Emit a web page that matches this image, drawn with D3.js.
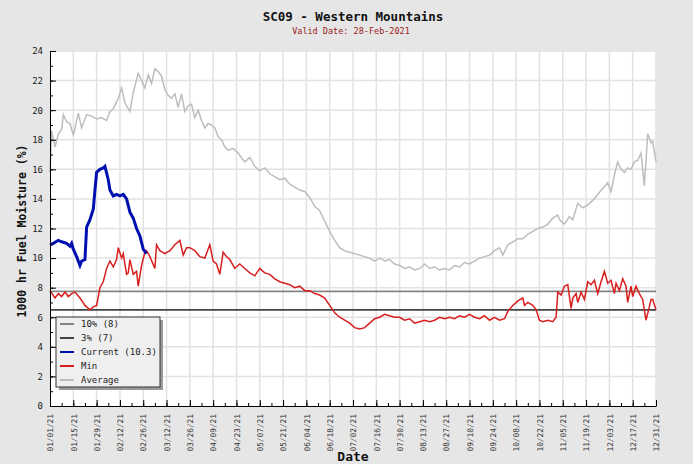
<!DOCTYPE html>
<html lang="en">
<head>
<meta charset="UTF-8">
<script src="https://cdn.jsdelivr.net/npm/d3@7.8.5/dist/d3.min.js"></script>
<title>SC09 - Western Mountains</title>
<style>
  body { margin: 0; background: #e6e6e6; }
  svg text { font-family: "DejaVu Sans Mono", monospace; }
</style>
</head>
<body>
<svg width="693" height="464"></svg>
<script>
// x values are days after 01/01/21
const dateTicks = ["01/01/21","01/15/21","01/29/21","02/12/21","02/26/21","03/12/21","03/26/21",
  "04/09/21","04/23/21","05/07/21","05/21/21","06/04/21","06/18/21","07/02/21","07/16/21",
  "07/30/21","08/13/21","08/27/21","09/10/21","09/24/21","10/08/21","10/22/21","11/05/21",
  "11/19/21","12/03/21","12/17/21","12/31/21"];
const yTicks = [0, 2, 4, 6, 8, 10, 12, 14, 16, 18, 20, 22, 24];

const thresholdNames = ["10% (8)", "3% (7)"];
const thresholdValues = [7.75, 6.5];

const legendLabels = ["10% (8)", "3% (7)", "Current (10.3)", "Min", "Average"];

const averagePoints = [[0,15.8],[1,18.6],[3,17.5],[5,18.4],[7,18.7],[8,19.7],[10,19.2],[12,19.1],[14,18.3],
  [17,19.8],[19,18.8],[22,19.7],[25,19.6],[28,19.4],[31,19.5],[34,19.3],[36,19.9],[38,20.1],[41,20.8],
  [43,21.5],[45,20.5],[48,19.9],[50,21.2],[53,22.5],[55,22.0],[57,21.5],[59,22.4],[61,21.8],[63,22.8],
  [65,22.6],[67,22.3],[69,21.4],[71,21.0],[73,20.8],[75,21.1],[77,20.2],[79,21.1],[81,19.9],[83,20.3],
  [85,20.4],[87,19.5],[89,20.0],[91,19.3],[93,18.8],[95,19.1],[97,19.0],[99,18.8],[101,18.2],[103,18.0],
  [105,17.5],[107,17.3],[110,17.4],[113,17.1],[117,16.5],[120,16.8],[123,16.2],[126,15.9],[129,16.1],
  [132,15.7],[135,15.5],[138,15.3],[141,15.4],[144,15.0],[147,14.8],[150,14.6],[153,14.5],[156,14.1],
  [159,13.5],[162,13.2],[165,12.5],[168,11.8],[171,11.2],[174,10.7],[177,10.5],[180,10.4],[183,10.3],
  [186,10.2],[189,10.1],[192,10.0],[195,9.8],[198,10.0],[201,9.8],[204,9.9],[207,9.6],[210,9.5],
  [213,9.3],[216,9.4],[219,9.2],[222,9.3],[225,9.6],[228,9.3],[231,9.4],[234,9.2],[237,9.3],[240,9.2],
  [243,9.5],[246,9.4],[249,9.7],[252,9.6],[255,9.8],[258,10.0],[261,10.1],[264,10.2],[267,10.5],
  [270,10.7],[272,10.2],[275,10.9],[278,11.1],[281,11.3],[284,11.3],[287,11.6],[290,11.8],[293,12.0],
  [296,12.1],[299,12.3],[302,12.7],[305,12.9],[306,12.6],[309,12.3],[312,12.8],[314,12.6],[317,13.7],
  [320,13.4],[323,13.6],[326,13.9],[329,14.3],[332,14.7],[335,15.1],[337,14.5],[339,15.6],[341,16.5],
  [343,16.0],[345,15.8],[347,16.1],[349,16.0],[351,16.5],[353,16.6],[355,17.1],[357,14.9],[358,16.6],
  [359,18.4],[361,17.8],[362,17.9],[364,16.5]];

const minPoints = [[0,7.8],[3,7.3],[5,7.6],[7,7.4],[9,7.7],[11,7.4],[13,7.6],[15,7.7],[18,7.3],[21,6.8],
  [24,6.5],[26,6.7],[28,6.8],[30,8.0],[32,8.4],[34,9.3],[36,9.8],[38,9.4],[40,9.9],[41,10.7],[43,10.0],
  [44,10.3],[46,8.9],[47,9.0],[48,9.9],[50,8.9],[52,9.1],[53,8.1],[55,9.5],[57,10.4],[58,10.5],[60,10.1],
  [63,9.3],[64,10.9],[66,10.5],[69,10.3],[72,10.5],[75,10.9],[78,11.2],[80,10.2],[82,10.7],[84,10.7],
  [87,10.5],[90,10.1],[93,10.0],[96,10.9],[98,9.8],[100,9.6],[102,8.9],[104,10.4],[106,10.1],[108,9.9],
  [111,9.3],[114,9.6],[117,9.3],[120,9.0],[123,8.8],[126,9.3],[129,9.0],[132,8.9],[135,8.6],[138,8.4],
  [141,8.3],[144,8.2],[147,8.0],[150,8.1],[153,7.8],[156,7.8],[159,7.6],[162,7.5],[165,7.3],[168,6.8],
  [171,6.3],[174,6.0],[177,5.8],[180,5.6],[183,5.3],[186,5.2],[189,5.3],[192,5.6],[195,5.9],[198,6.0],
  [201,6.2],[204,6.1],[207,6.0],[210,6.0],[213,5.8],[216,5.9],[219,5.6],[222,5.7],[225,5.8],[228,5.7],
  [231,5.8],[234,6.0],[237,5.9],[240,6.0],[243,5.9],[246,6.1],[249,6.0],[252,6.2],[255,6.0],[258,5.9],
  [261,6.1],[264,5.8],[267,6.0],[270,5.8],[273,5.9],[275,6.4],[278,6.8],[281,7.1],[284,7.3],[285,6.8],
  [287,7.0],[290,6.8],[292,6.5],[294,5.8],[296,5.7],[299,5.8],[302,5.7],[304,6.0],[305,7.7],[307,7.5],
  [309,8.1],[311,8.2],[313,6.6],[314,7.3],[316,7.6],[317,7.0],[319,7.7],[321,7.2],[323,8.4],[325,8.2],
  [327,8.5],[329,7.6],[331,8.4],[333,9.1],[335,8.3],[337,8.5],[339,7.6],[340,8.3],[342,7.8],[344,8.6],
  [346,8.1],[347,7.0],[349,8.1],[350,7.4],[352,8.1],[354,7.6],[356,7.2],[357,6.5],[358,5.8],[360,6.7],
  [361,7.2],[362,7.2],[364,6.5]];

const currentPoints = [[0,10.9],[2,11.0],[5,11.2],[7,11.1],[10,11.0],[12,10.8],[13,11.0],[14,10.6],
  [16,10.1],[18,9.5],[19,9.8],[21,9.9],[22,12.1],[24,12.6],[26,13.3],[27,14.6],[28,15.8],[30,16.0],
  [32,16.1],[33,16.2],[35,15.3],[36,14.6],[38,14.2],[40,14.3],[42,14.2],[44,14.3],[46,14.0],[48,13.1],
  [50,12.7],[52,12.0],[54,11.5],[56,10.6],[58,10.3]];

const svg = d3.select("svg");
const plotLeft = 50, plotRight = 656, plotTop = 51, plotBottom = 406;
const parse = d3.timeParse("%m/%d/%y");
const start = parse(dateTicks[0]);
const tickDates = dateTicks.map(parse);

const x = d3.scaleTime().domain([start, tickDates[tickDates.length - 1]]).range([plotLeft, plotRight]);
const y = d3.scaleLinear().domain([0, 24]).range([plotBottom, plotTop]);
const dayToDate = d => d3.timeDay.offset(start, d);

// plot background
svg.append("rect").attr("x", plotLeft).attr("y", plotTop)
  .attr("width", plotRight - plotLeft).attr("height", plotBottom - plotTop).attr("fill", "#fff");

// grid
const grid = svg.append("g").attr("stroke", "#e2e2e2").attr("stroke-width", 1.5);
grid.selectAll(".vg").data(tickDates.slice(1)).enter().append("line")
  .attr("x1", d => x(d)).attr("x2", d => x(d)).attr("y1", plotTop).attr("y2", plotBottom);
grid.selectAll(".hg").data(yTicks.slice(1)).enter().append("line")
  .attr("x1", plotLeft).attr("x2", plotRight).attr("y1", d => y(d)).attr("y2", d => y(d));

// threshold lines
const threshColors = ["#858585", "#444"];
svg.selectAll(".thresh").data(thresholdValues).enter().append("line")
  .attr("x1", plotLeft).attr("x2", plotRight)
  .attr("y1", d => y(d)).attr("y2", d => y(d))
  .attr("stroke", (d, i) => threshColors[i]).attr("stroke-width", 1.6);

const line = d3.line().x(d => x(dayToDate(d[0]))).y(d => y(d[1]));

svg.append("path").datum(averagePoints).attr("d", line)
  .attr("fill", "none").attr("stroke", "#bdbdbd").attr("stroke-width", 1.5);
svg.append("path").datum(minPoints).attr("d", line)
  .attr("fill", "none").attr("stroke", "#d81e1e").attr("stroke-width", 1.5);
svg.append("path").datum(currentPoints).attr("d", line)
  .attr("fill", "none").attr("stroke", "#0010b0").attr("stroke-width", 3);

// y axis
const minorY = d3.range(0, 25, 1);
svg.append("g").attr("transform", `translate(${plotLeft},0)`)
  .call(d3.axisLeft(y).tickValues(minorY).tickSize(-3).tickFormat(""))
  .call(g => g.select(".domain").remove());
const yAxis = svg.append("g").attr("transform", `translate(${plotLeft},0)`)
  .call(d3.axisLeft(y).tickValues(yTicks).tickSizeInner(-6).tickSizeOuter(0).tickPadding(7));
yAxis.selectAll("text").attr("font-size", 9).attr("fill", "#222")
  .style("font-family", "'DejaVu Sans Mono', monospace");

// x axis
const minorX = d3.range(0, 365, 7).map(dayToDate);
svg.append("g").attr("transform", `translate(0,${plotBottom})`)
  .call(d3.axisBottom(x).tickValues(minorX).tickSize(-3).tickFormat(""))
  .call(g => g.select(".domain").remove());
const xAxis = svg.append("g").attr("transform", `translate(0,${plotBottom})`)
  .call(d3.axisBottom(x).tickValues(tickDates).tickSizeInner(-6).tickSizeOuter(0)
    .tickFormat((d, i) => dateTicks[i]));
xAxis.selectAll("text")
  .attr("transform", "rotate(-90)")
  .attr("x", -8).attr("y", 0).attr("dy", "0.35em")
  .attr("text-anchor", "end").attr("font-size", 7.8).attr("fill", "#333")
  .style("font-family", "'DejaVu Sans Mono', monospace");

// titles
svg.append("text").attr("x", 353).attr("y", 21).attr("text-anchor", "middle")
  .attr("font-size", 12.5).attr("font-weight", "bold").attr("fill", "#111")
  .text("SC09 - Western Mountains");
svg.append("text").attr("x", 351).attr("y", 34).attr("text-anchor", "middle")
  .attr("font-size", 8.5).attr("fill", "#9b1b1b")
  .text("Valid Date: 28-Feb-2021");
svg.append("text").attr("transform", "translate(22,231) rotate(-90)")
  .attr("text-anchor", "middle").attr("dy", "0.35em")
  .attr("font-size", 11.5).attr("font-weight", "bold").attr("fill", "#111")
  .text("1000 hr Fuel Moisture (%)");
svg.append("text").attr("x", 353).attr("y", 461).attr("text-anchor", "middle")
  .attr("font-size", 13).attr("font-weight", "bold").attr("fill", "#111")
  .text("Date");

// legend
const legendColors = ["#858585", "#444", "#0010b0", "#d81e1e", "#bdbdbd"];
const leg = svg.append("g").attr("transform", "translate(56,317)");
leg.append("rect").attr("x", 3).attr("y", 3).attr("width", 104).attr("height", 70).attr("fill", "#9a9a9a");
leg.append("rect").attr("x", 0).attr("y", 0).attr("width", 104).attr("height", 70)
  .attr("fill", "#efefef").attr("stroke", "#333").attr("stroke-width", 1);
const items = leg.selectAll(".item").data(legendLabels).enter().append("g")
  .attr("transform", (d, i) => `translate(0,${7 + i * 14})`);
items.append("line").attr("x1", 4).attr("x2", 18).attr("y1", 0).attr("y2", 0)
  .attr("stroke", (d, i) => legendColors[i]).attr("stroke-width", 2);
items.append("text").attr("x", 25).attr("dy", "0.35em").attr("font-size", 9).attr("fill", "#222")
  .text(d => d);
</script>
</body>
</html>
